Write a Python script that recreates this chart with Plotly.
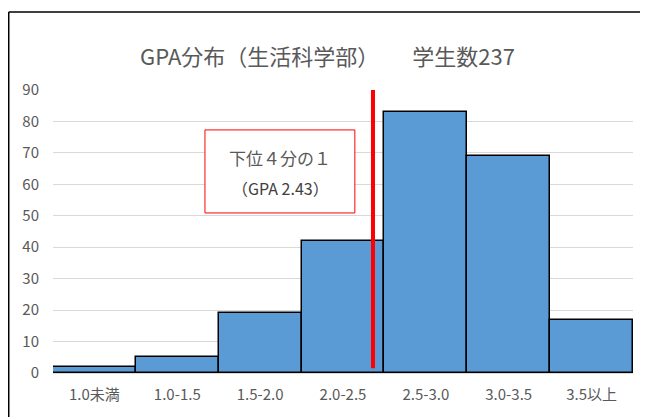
import plotly.graph_objects as go

categories = ["1.0未満", "1.0-1.5", "1.5-2.0", "2.0-2.5", "2.5-3.0", "3.0-3.5", "3.5以上"]
counts = [2, 5, 19, 42, 83, 69, 17]
quartile_pos = 3.362  # GPA 2.43 within the 2.0-2.5 bin
title_text = "GPA分布（生活科学部）　　学生数237"
note_line1 = "下位４分の１"
note_line2 = "（GPA 2.43）"

FONT = "Noto Sans CJK JP, Noto Sans, sans-serif"
GRAY = "#595959"

fig = go.Figure()
fig.add_trace(go.Bar(
    x=list(range(len(categories))), y=counts,
    marker=dict(color="#5B9BD5", line=dict(color="black", width=1.5)),
    width=1.0, hoverinfo="skip",
))
fig.add_trace(go.Scatter(
    x=[quartile_pos, quartile_pos], y=[1.5, 90], mode="lines",
    line=dict(color="#FF0000", width=4), hoverinfo="skip",
))

shapes = [
    dict(type="rect", xref="x", yref="y", x0=1.334, x1=3.143, y0=50.9, y1=77.3,
         line=dict(color="#FF0000", width=1), fillcolor="white", layer="above"),
    dict(type="line", xref="paper", yref="paper", x0=-0.0763, x1=-0.0763, y0=1.2756, y1=-0.3,
         line=dict(color="black", width=1.5)),
    dict(type="line", xref="paper", yref="paper", x0=-0.0763, x1=1.1, y0=1.2756, y1=1.2756,
         line=dict(color="black", width=1.5)),
]

annotations = [
    dict(x=2.24, y=68.4, xref="x", yref="y", text=note_line1, showarrow=False,
         font=dict(family=FONT, size=17, color=GRAY)),
    dict(x=2.24, y=58.8, xref="x", yref="y", text=note_line2, showarrow=False,
         font=dict(family=FONT, size=16, color="#404040")),
]

fig.update_layout(
    width=648, height=417,
    margin=dict(l=45, r=23, t=82, b=52),
    paper_bgcolor="white", plot_bgcolor="white",
    showlegend=False, bargap=0,
    title=dict(text=title_text, x=0.493, xanchor="center", y=0.8825, yanchor="middle",
               font=dict(family=FONT, size=22, color=GRAY)),
    shapes=shapes, annotations=annotations,
    xaxis=dict(tickmode="array", tickvals=list(range(len(categories))), ticktext=categories,
               range=[-0.5, 6.5], showgrid=False, showline=True, linecolor="#D9D9D9",
               tickfont=dict(family=FONT, size=15, color=GRAY), ticks="", ticklen=0,
               ticklabelstandoff=8),
    yaxis=dict(range=[0, 90], dtick=10, showgrid=True, gridcolor="#D9D9D9", gridwidth=1,
               zeroline=False, showline=False,
               tickfont=dict(family=FONT, size=15, color=GRAY), ticklabelstandoff=13),
)

fig.write_html("out.html")
